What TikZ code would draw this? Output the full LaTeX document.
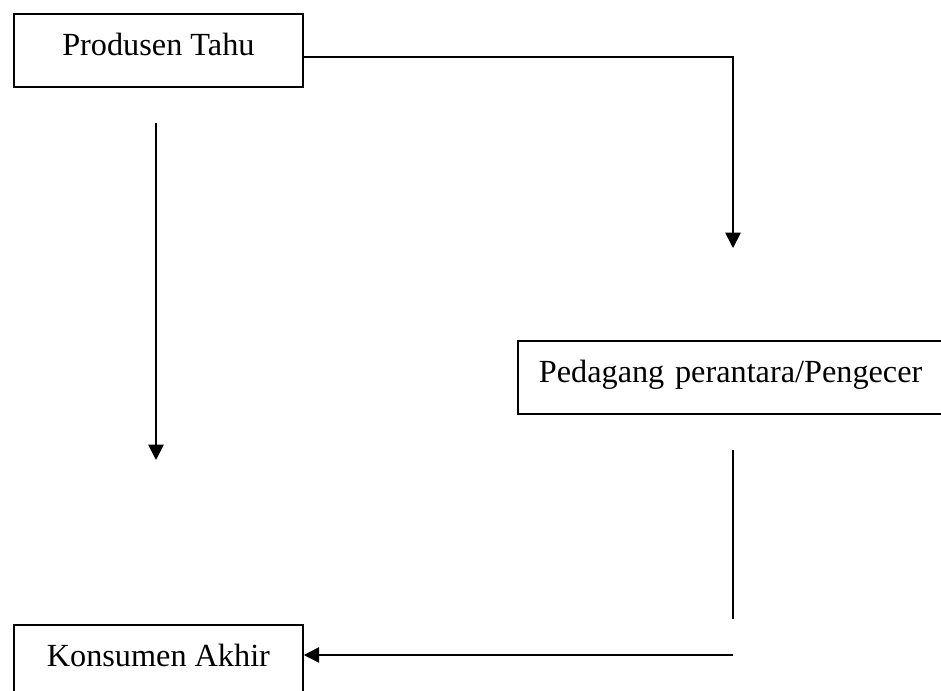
\documentclass[tikz,border=0pt]{standalone}
\usepackage{fontspec}
\setmainfont{Liberation Serif}
\usetikzlibrary{arrows.meta}
\tikzset{every picture/.style={line width=1.35pt}}
\tikzset{
  channelbox/.style={draw, anchor=north west, inner xsep=0pt, inner ysep=0pt,
    text height=31.5pt, text depth=23.25pt, minimum width=216.75pt,
    font=\fontsize{24.2}{28}\selectfont},
  flow/.style={-{Triangle[length=11.5pt,width=11.5pt]}}
}

\begin{document}
\begin{tikzpicture}[x=0.75pt,y=0.75pt,yscale=-1,xscale=1]
\clip (0,0) rectangle (941,691);
\fill[white] (0,0) rectangle (941,691);

% Shape: Rectangle
\node[channelbox] (produsen) at (13,13) {Produsen Tahu};
% Shape: Rectangle
\node[channelbox, minimum width=0pt, text width=293.25pt, inner xsep=15.75pt, align=left] (pedagang) at (517,340) {Pedagang perantara/Pengecer};
% Shape: Rectangle
\node[channelbox] (konsumen) at (13,624) {Konsumen Akhir};

% Free ends
\coordinate (ptip) at (733,248);
\coordinate (ltop) at (156,123);
\coordinate (ltip) at (156,460);
\coordinate (rtop) at (733,450);
\coordinate (rbot) at (733,619);
\coordinate (rstart) at (733,655);

% Straight Lines
\draw[flow] (produsen.east |- 0,57) -| (ptip);
\draw[flow] (ltop) -- (ltip);
\draw (rtop) -- (rbot);
\draw[flow] (rstart) -- (rstart -| konsumen.east);

\end{tikzpicture}
\end{document}
